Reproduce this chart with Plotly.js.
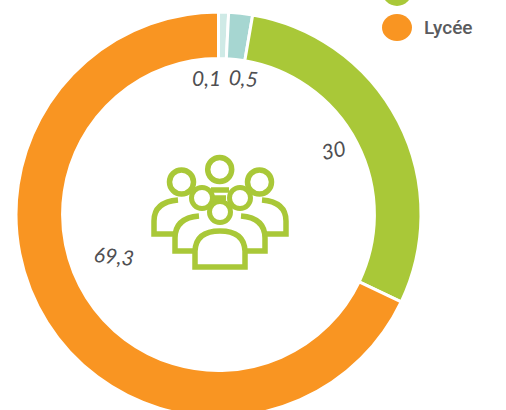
<!DOCTYPE html>
<html>
<head>
<meta charset="utf-8">
<script src="https://cdn.plot.ly/plotly-3.0.1.min.js"></script>
<style>html,body{margin:0;padding:0;width:506px;height:410px;overflow:hidden;background:#fff}</style>
</head>
<body>
<div id="chart"></div>
<script>
// Slice sizes as drawn in the picture (the printed labels do not match the drawn angles)
const categories = ['A', 'B', 'Collège', 'Lycée'];
const drawnValues = [0.8, 1.9, 29.4, 67.9];
const printedLabels = ['0,1', '0,5', '30', '69,3'];
const sliceColors = ['#cfeae6', '#a6d6d1', '#a9c838', '#f99522'];
const legendLabel = 'Lycée';

const W = 506, H = 440; // taller than the window: the ring is cut by the bottom edge
const cx = 218.5, cy = 214.5, R = 202.5;
const px = x => x / W;
const py = y => 1 - y / H;
const P = (x, y) => `${px(x).toFixed(5)} ${py(y).toFixed(5)}`;

const green = '#a9c838', orange = '#f99522', sw = 5.5;

function circle(x, y, r, fill, stroke, lw) {
  return {type: 'circle', xref: 'paper', yref: 'paper',
    x0: px(x - r), x1: px(x + r), y0: py(y + r), y1: py(y - r),
    fillcolor: fill, line: {color: stroke, width: lw}};
}
function path(d, fill) {
  return {type: 'path', xref: 'paper', yref: 'paper', path: d,
    fillcolor: fill || 'rgba(0,0,0,0)', line: {color: green, width: sw}};
}
function bodyOpen(x0, y0, cxa, cya, x1, y1, y2, x3) {
  return `M${P(x0, y0)} Q${P(cxa, cya)} ${P(x1, y1)} L${P(x1, y2)} L${P(x3, y2)}`;
}
const mx = x => 440 - x;

const shapes = [
  // back bodies
  path(bodyOpen(178, 200, 154, 202, 154, 221, 234, 175)),
  path(bodyOpen(mx(178), 200, mx(154), 202, mx(154), 221, 234, mx(175))),
  // middle bodies
  path(bodyOpen(199, 216, 175, 218, 175, 238, 251, 195)),
  path(bodyOpen(mx(199), 216, mx(175), 218, mx(175), 238, 251, mx(195))),
  // front body
  path(`M${P(195, 267)} L${P(195, 251)} Q${P(196, 231)} ${P(220, 231)} Q${P(244, 231)} ${P(245, 251)} L${P(245, 267)} Z`),
  // bridge between heads
  path(`M${P(211, 190)} L${P(229, 190)}`),
  path(`M${P(214, 198)} L${P(226, 198)}`),
  // heads
  circle(219.7, 169.5, 12, '#ffffff', green, 5.5),
  circle(181.5, 182, 12, '#ffffff', green, 5.5),
  circle(259.5, 182, 12, '#ffffff', green, 5.5),
  circle(202, 198, 10.5, '#ffffff', green, 5),
  circle(240, 198, 10.5, '#ffffff', green, 5),
  circle(220, 212, 10.5, '#ffffff', green, 5),
  // legend markers
  circle(397, -9, 15, green, green, 0),
  {type: 'circle', xref: 'paper', yref: 'paper',
    x0: px(382), x1: px(412), y0: py(41), y1: py(14), fillcolor: orange, line: {width: 0}}
];

const labelFont = {family: 'Lato, sans-serif', size: 21, color: '#4f4f52', style: 'italic'};
function note(text, x, y, angle, font) {
  return {text, xref: 'paper', yref: 'paper', x: px(x), y: py(y), showarrow: false,
    xanchor: 'center', yanchor: 'middle', textangle: angle, font: font || labelFont};
}
const annotations = [
  note(printedLabels[0], 206, 78, 0),
  note(printedLabels[1], 243, 78, 5),
  note(printedLabels[2], 333, 149, -12),
  note(printedLabels[3], 114, 255, 6),
  note(legendLabel, 448.5, 28, 0, {family: 'Roboto, sans-serif', size: 19, weight: 500, color: '#5a5b5e'})
];

Plotly.newPlot('chart', [{
  type: 'pie',
  labels: categories,
  values: drawnValues,
  sort: false,
  direction: 'clockwise',
  rotation: 0,
  hole: 0.77,
  textinfo: 'none',
  hoverinfo: 'skip',
  marker: {colors: sliceColors, line: {color: '#ffffff', width: 3}},
  domain: {x: [px(cx - R), px(cx + R)], y: [py(cy + R), py(cy - R)]}
}], {
  width: W, height: H,
  margin: {l: 0, r: 0, t: 0, b: 0},
  showlegend: false,
  paper_bgcolor: '#ffffff',
  shapes, annotations
}, {displayModeBar: false, staticPlot: true});
</script>
</body>
</html>
